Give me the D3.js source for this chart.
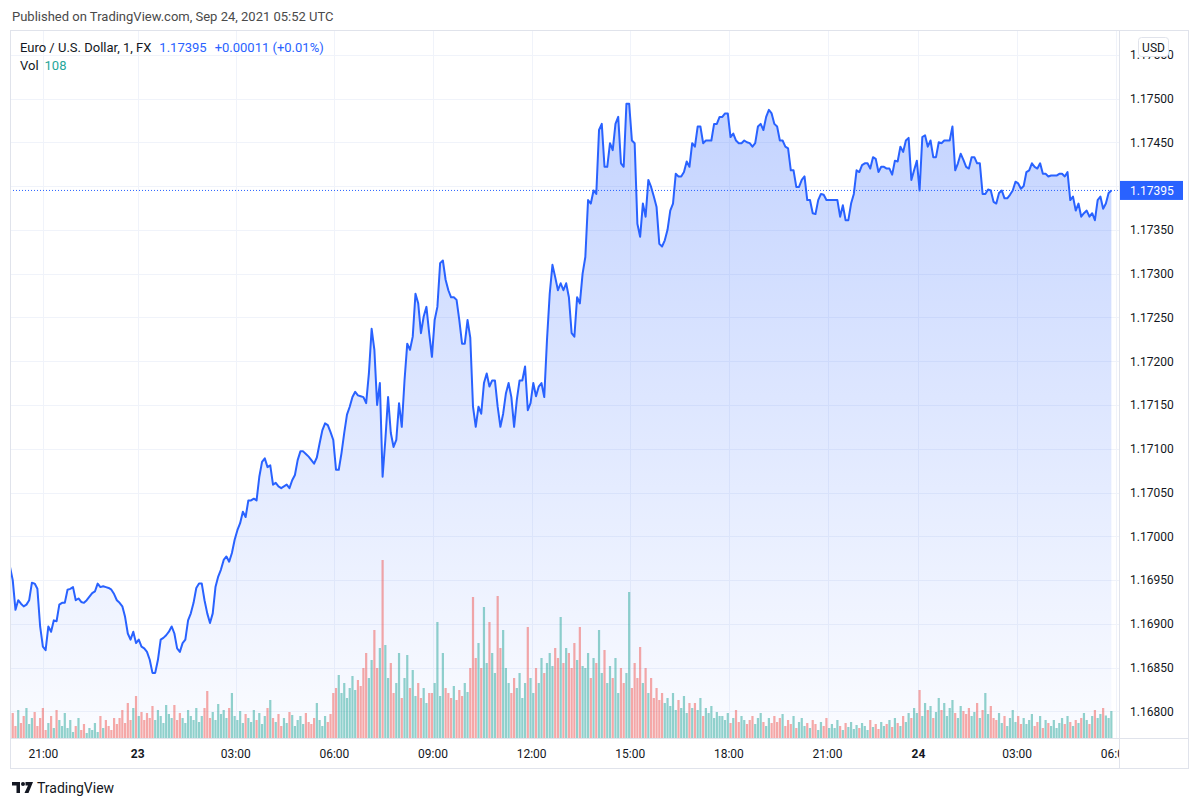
<!DOCTYPE html>
<html>
<head>
<meta charset="utf-8">
<script src="https://cdn.jsdelivr.net/npm/d3@7"></script>
<style>
  body { margin: 0; background: #fff; }
  text { font-family: Roboto, "Liberation Sans", sans-serif; }
</style>
</head>
<body>
<div id="chart"></div>
<script>
// EUR/USD 1 minute, Sep 22 20:00 -> Sep 24 05:52 UTC
// price read every 5 one-minute bars
var prices = [
  1.16965,1.16950,1.16916,1.16927,1.16923,1.16920,1.16922,1.16927,1.16947,1.16946,
  1.16940,1.16897,1.16874,1.16870,1.16897,1.16891,1.16904,1.16903,1.16922,1.16924,
  1.16924,1.16939,1.16940,1.16942,1.16927,1.16929,1.16925,1.16924,1.16927,1.16931,
  1.16935,1.16937,1.16946,1.16942,1.16943,1.16942,1.16941,1.16939,1.16934,1.16927,
  1.16924,1.16920,1.16908,1.16889,1.16882,1.16891,1.16878,1.16882,1.16874,1.16872,
  1.16868,1.16859,1.16844,1.16844,1.16859,1.16882,1.16884,1.16887,1.16891,1.16897,
  1.16889,1.16872,1.16868,1.16878,1.16882,1.16904,1.16912,1.16924,1.16941,1.16946,
  1.16946,1.16927,1.16912,1.16901,1.16912,1.16942,1.16954,1.16962,1.16973,1.16977,
  1.16971,1.16981,1.16996,1.17007,1.17015,1.17028,1.17022,1.17041,1.17041,1.17043,
  1.17041,1.17068,1.17085,1.17089,1.17079,1.17081,1.17059,1.17061,1.17057,1.17055,
  1.17057,1.17059,1.17055,1.17064,1.17070,1.17087,1.17097,1.17097,1.17094,1.17091,
  1.17087,1.17083,1.17090,1.17106,1.17121,1.17129,1.17127,1.17119,1.17110,1.17076,
  1.17076,1.17095,1.17118,1.17139,1.17148,1.17159,1.17165,1.17161,1.17160,1.17159,
  1.17152,1.17186,1.17237,1.17213,1.17150,1.17175,1.17068,1.17110,1.17159,1.17118,
  1.17102,1.17110,1.17152,1.17125,1.17178,1.17220,1.17213,1.17228,1.17277,1.17266,
  1.17232,1.17251,1.17262,1.17232,1.17205,1.17247,1.17262,1.17312,1.17315,1.17293,
  1.17281,1.17273,1.17273,1.17270,1.17247,1.17220,1.17220,1.17247,1.17227,1.17148,
  1.17125,1.17148,1.17140,1.17175,1.17186,1.17171,1.17178,1.17178,1.17148,1.17125,
  1.17140,1.17163,1.17175,1.17159,1.17125,1.17156,1.17178,1.17178,1.17194,1.17144,
  1.17152,1.17175,1.17160,1.17171,1.17175,1.17159,1.17224,1.17277,1.17310,1.17296,
  1.17281,1.17289,1.17281,1.17289,1.17273,1.17232,1.17228,1.17273,1.17266,1.17300,
  1.17319,1.17384,1.17380,1.17395,1.17391,1.17464,1.17471,1.17422,1.17422,1.17449,
  1.17441,1.17471,1.17479,1.17426,1.17422,1.17494,1.17494,1.17452,1.17449,1.17357,
  1.17342,1.17380,1.17365,1.17407,1.17399,1.17388,1.17376,1.17334,1.17331,1.17338,
  1.17350,1.17372,1.17380,1.17414,1.17411,1.17411,1.17416,1.17428,1.17422,1.17449,
  1.17445,1.17468,1.17468,1.17449,1.17452,1.17452,1.17452,1.17471,1.17471,1.17479,
  1.17479,1.17483,1.17483,1.17456,1.17460,1.17452,1.17449,1.17449,1.17452,1.17450,
  1.17449,1.17445,1.17449,1.17468,1.17471,1.17464,1.17479,1.17487,1.17483,1.17471,
  1.17468,1.17452,1.17452,1.17445,1.17443,1.17418,1.17418,1.17399,1.17399,1.17407,
  1.17411,1.17384,1.17384,1.17369,1.17368,1.17384,1.17391,1.17390,1.17384,1.17384,
  1.17384,1.17384,1.17384,1.17365,1.17378,1.17361,1.17361,1.17380,1.17391,1.17418,
  1.17416,1.17424,1.17426,1.17426,1.17420,1.17433,1.17431,1.17416,1.17422,1.17422,
  1.17420,1.17420,1.17413,1.17429,1.17428,1.17445,1.17439,1.17452,1.17455,1.17407,
  1.17418,1.17429,1.17395,1.17456,1.17458,1.17445,1.17452,1.17433,1.17433,1.17450,
  1.17449,1.17452,1.17452,1.17452,1.17468,1.17418,1.17426,1.17437,1.17430,1.17422,
  1.17420,1.17433,1.17433,1.17426,1.17426,1.17391,1.17391,1.17396,1.17395,1.17382,
  1.17380,1.17392,1.17395,1.17386,1.17386,1.17390,1.17395,1.17405,1.17403,1.17397,
  1.17400,1.17416,1.17418,1.17426,1.17422,1.17420,1.17426,1.17414,1.17414,1.17411,
  1.17412,1.17412,1.17412,1.17414,1.17414,1.17411,1.17416,1.17384,1.17388,1.17372,
  1.17380,1.17365,1.17369,1.17372,1.17365,1.17369,1.17361,1.17384,1.17388,1.17374,
  1.17380,1.17392,1.17395
];
var priceStep = 5;

// volume read every 5 bars
var volumes = [
  72,100,48,112,60,88,120,56,80,104,  48,80,120,32,60,88,40,112,72,48,
  100,40,72,24,48,80,32,56,20,40,     32,60,24,88,40,72,48,32,80,56,
  80,112,60,140,72,120,168,88,104,72, 100,80,128,72,112,88,60,132,96,80,
  132,72,100,80,60,112,88,72,120,64,  88,120,188,80,104,72,136,96,112,80,
  120,180,88,72,108,60,96,80,64,112,  72,100,56,88,120,152,80,64,96,48,
  80,60,104,92,48,72,88,56,100,64,    56,80,140,72,48,88,64,96,180,200,
  252,180,220,160,200,248,192,232,208,280, 340,240,312,432,280,360,712,372,240,300,
  180,220,340,160,240,332,200,272,168,220, 160,200,140,180,180,220,464,168,340,200,
  180,160,208,152,192,168,220,184,280,564, 320,380,280,524,300,464,340,260,568,360,
  432,280,220,180,240,200,260,160,220,444, 240,180,280,220,320,260,300,340,288,360,
  320,484,300,360,340,280,380,312,444,288, 280,340,240,320,300,432,260,352,220,288,
  240,320,180,280,220,260,584,200,300,240, 364,220,280,180,240,160,200,152,180,140,
  160,128,180,112,152,120,168,100,140,120, 140,112,160,88,120,100,128,80,104,88,
  88,72,100,60,80,112,64,88,72,56,    72,88,56,80,100,64,48,80,60,88,
  64,80,96,48,72,56,88,40,64,80,      48,60,40,72,56,32,64,48,80,40,
  56,40,72,48,32,60,44,64,36,52,      40,60,48,32,72,44,56,36,64,48,
  56,72,44,80,60,48,88,64,100,80,     120,100,192,88,140,112,128,80,104,160,
  112,140,88,120,152,100,80,128,108,96, 120,88,104,140,80,112,180,96,128,80,
  72,100,60,88,48,80,112,64,88,56,    80,56,72,96,48,64,88,40,72,60,
  48,72,40,60,80,56,88,64,48,72,      60,80,100,72,56,88,112,80,96,120,
  90,80,108
];
var volumeStep = 5;

var priceTicks = [1.168,1.1685,1.169,1.1695,1.17,1.1705,1.171,1.1715,1.172,1.1725,1.173,1.1735,1.174,1.1745,1.175,1.1755];
var timeTickLabels = ["21:00","23","03:00","06:00","09:00","12:00","15:00","18:00","21:00","24","03:00","06:00"];
var timeTickBars = [61,233,412,592,772,952,1132,1312,1492,1658,1838,2018];

var lastPrice = 1.17395, lastChange = "+0.00011 (+0.01%)", lastVol = 108;

var W = 1200, H = 807;
var pane = {left: 10, top: 30, right: 1119, bottom: 738};
var axisRight = 1188, axisBottom = 768;

var svg = d3.select("#chart").append("svg")
  .attr("width", W).attr("height", H);

var x = d3.scaleLinear().domain([0, 2013]).range([pane.left, 1113]);
var y = d3.scaleLinear().domain([1.17, 1.175]).range([536.3, 98.5]);
var vy = d3.scaleLinear().domain([0, 708]).range([pane.bottom, pane.bottom - 177]);

var defs = svg.append("defs");
defs.append("clipPath").attr("id", "paneClip")
  .append("rect").attr("x", pane.left).attr("y", pane.top)
  .attr("width", pane.right - pane.left).attr("height", pane.bottom - pane.top);
defs.append("clipPath").attr("id", "timeClip")
  .append("rect").attr("x", pane.left).attr("y", pane.bottom)
  .attr("width", pane.right - pane.left).attr("height", axisBottom - pane.bottom);

var grad = defs.append("linearGradient").attr("id", "areaGrad")
  .attr("gradientUnits", "userSpaceOnUse")
  .attr("x1", 0).attr("x2", 0).attr("y1", y(d3.max(prices))).attr("y2", pane.bottom);
grad.append("stop").attr("offset", 0).attr("stop-color", "rgba(41,98,255,0.28)");
grad.append("stop").attr("offset", 1).attr("stop-color", "rgba(41,98,255,0.02)");

// grid
var grid = svg.append("g").attr("clip-path", "url(#paneClip)");
grid.selectAll("line.h").data(priceTicks).enter().append("line")
  .attr("x1", pane.left).attr("x2", pane.right)
  .attr("y1", function(d) { return Math.round(y(d)) + 0.5; })
  .attr("y2", function(d) { return Math.round(y(d)) + 0.5; })
  .attr("stroke", "#f0f3fa");
grid.selectAll("line.v").data(timeTickBars).enter().append("line")
  .attr("y1", pane.top).attr("y2", pane.bottom)
  .attr("x1", function(d) { return Math.round(x(d)) + 0.5; })
  .attr("x2", function(d) { return Math.round(x(d)) + 0.5; })
  .attr("stroke", "#f0f3fa");

var plot = svg.append("g").attr("clip-path", "url(#paneClip)");

// area + line
var area = d3.area()
  .x(function(d, i) { return x(i * priceStep); })
  .y0(pane.bottom)
  .y1(function(d) { return y(d); });
var line = d3.line()
  .x(function(d, i) { return x(i * priceStep); })
  .y(function(d) { return y(d); });

plot.append("path").datum(prices).attr("d", area).attr("fill", "url(#areaGrad)");

// volume, coloured by price move over the same bucket
function volUp(k) {
  var i = Math.min(Math.round(k * volumeStep / priceStep), prices.length - 1);
  return prices[i] >= prices[Math.max(i - 1, 0)];
}
var bw = (x(volumeStep) - x(0)) * 0.8;
plot.selectAll("rect.vol").data(volumes).enter().append("rect")
  .attr("x", function(d, k) { return x(k * volumeStep) - bw / 2; })
  .attr("y", function(d) { return vy(d); })
  .attr("width", bw)
  .attr("height", function(d) { return pane.bottom - vy(d); })
  .attr("fill", function(d, k) { return volUp(k) ? "rgba(38,166,154,0.5)" : "rgba(239,83,80,0.5)"; });

plot.append("path").datum(prices).attr("d", line)
  .attr("fill", "none").attr("stroke", "#2962ff").attr("stroke-width", 2)
  .attr("stroke-linejoin", "round");

// last price dotted line
svg.append("line")
  .attr("x1", pane.left).attr("x2", pane.right)
  .attr("y1", y(lastPrice)).attr("y2", y(lastPrice))
  .attr("stroke", "#2962ff").attr("stroke-dasharray", "1,2");

// frames
svg.append("rect").attr("x", pane.left + 0.5).attr("y", pane.top + 0.5)
  .attr("width", axisRight - pane.left).attr("height", axisBottom - pane.top)
  .attr("fill", "none").attr("stroke", "#e0e3eb");
svg.append("line").attr("x1", pane.right + 0.5).attr("x2", pane.right + 0.5)
  .attr("y1", pane.top).attr("y2", axisBottom).attr("stroke", "#e0e3eb");
svg.append("line").attr("x1", pane.left).attr("x2", axisRight)
  .attr("y1", pane.bottom + 0.5).attr("y2", pane.bottom + 0.5).attr("stroke", "#e0e3eb");

// price axis: labels that collide with the last-price label are hidden
var labelTicks = priceTicks.filter(function(d) { return Math.abs(y(d) - y(lastPrice)) > 12; });
var yAxis = svg.append("g").attr("transform", "translate(" + (pane.right + 11) + ",0)")
  .call(d3.axisRight(y).tickValues(labelTicks).tickSize(0).tickPadding(0)
    .tickFormat(d3.format(".5f")));
yAxis.select(".domain").remove();
yAxis.selectAll("text").attr("font-size", 12).attr("fill", "#131722")
  .attr("font-family", "Roboto, sans-serif");

// USD badge (sits over the top tick label, as in TradingView)
svg.append("rect").attr("x", 1138.5).attr("y", 37.5).attr("width", 30).attr("height", 19)
  .attr("rx", 3).attr("fill", "#fff").attr("stroke", "#e0e3eb");
svg.append("text").attr("x", 1153.5).attr("y", 51.5).attr("text-anchor", "middle")
  .attr("font-size", 12).attr("fill", "#131722").text("USD");

// last price label
svg.append("rect").attr("x", pane.right + 1).attr("y", y(lastPrice) - 9.5)
  .attr("width", 63).attr("height", 19).attr("fill", "#2962ff");
svg.append("text").attr("x", pane.right + 11).attr("y", y(lastPrice) + 4.5)
  .attr("font-size", 12).attr("fill", "#fff").text(d3.format(".5f")(lastPrice));

// time axis
var tAxis = svg.append("g").attr("clip-path", "url(#timeClip)");
tAxis.selectAll("text").data(timeTickLabels).enter().append("text")
  .attr("x", function(d, i) { return x(timeTickBars[i]); })
  .attr("y", 757.5)
  .attr("text-anchor", "middle")
  .attr("font-size", 12)
  .attr("font-weight", function(d) { return d.length <= 2 ? "bold" : "normal"; })
  .attr("fill", "#131722")
  .text(function(d) { return d; });

// header
svg.append("text").attr("x", 12).attr("y", 21).attr("font-size", 13)
  .attr("fill", "#4a4a4a").text("Published on TradingView.com, Sep 24, 2021 05:52 UTC");

var leg = svg.append("text").attr("x", 20).attr("y", 52).attr("font-size", 13).attr("fill", "#131722");
leg.append("tspan").text("Euro / U.S. Dollar, 1, FX");
leg.append("tspan").attr("dx", 8).attr("fill", "#2962ff").text(d3.format(".5f")(lastPrice));
leg.append("tspan").attr("dx", 8).attr("fill", "#2962ff").text(lastChange);

var leg2 = svg.append("text").attr("x", 20).attr("y", 70).attr("font-size", 13).attr("fill", "#131722");
leg2.append("tspan").text("Vol");
leg2.append("tspan").attr("dx", 6).attr("fill", "#26a69a").text(lastVol);

// footer logo
var logo = svg.append("g").attr("transform", "translate(12,782)").attr("fill", "#131722");
logo.append("path").attr("d", "M0 0H8V11H4.5V3.5H0Z");
logo.append("circle").attr("cx", 11).attr("cy", 2).attr("r", 2);
logo.append("path").attr("d", "M13.5 0H21L16.5 11H12.5L16 3.5H13.5Z");
svg.append("text").attr("x", 37).attr("y", 793).attr("font-size", 14)
  .attr("fill", "#131722").text("TradingView");
</script>
</body>
</html>
